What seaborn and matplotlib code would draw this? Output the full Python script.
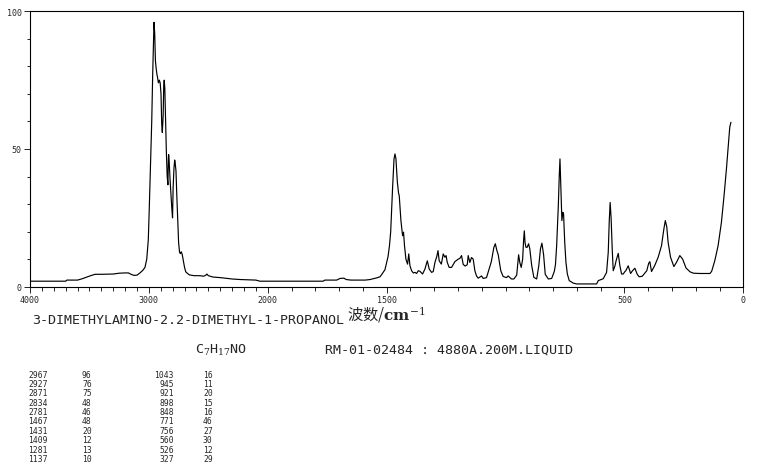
import numpy as np
import pandas as pd
import matplotlib
matplotlib.use("Agg")
import matplotlib.pyplot as plt
import seaborn as sns
from matplotlib.ticker import FixedLocator

# spectrum (wavenumber in cm-1, intensity in %)
wavenumber = [
    4000, 3850, 3700, 3690, 3600, 3560, 3523, 3490, 3453, 3400, 3300, 3250,
    3200, 3172, 3150, 3125, 3100, 3075, 3050, 3033, 3018, 3005, 2997, 2985,
    2976, 2968, 2960, 2957, 2951, 2945, 2938, 2932, 2927, 2920, 2912, 2905,
    2898, 2892, 2887, 2880, 2875, 2871, 2866, 2860, 2853, 2846, 2840, 2836,
    2834, 2830, 2822, 2814, 2808, 2801, 2796, 2789, 2783, 2779, 2772, 2765,
    2757, 2750, 2742, 2735, 2728, 2720, 2710, 2700, 2690, 2680, 2660, 2620,
    2570, 2540, 2520, 2512, 2500, 2460, 2400, 2300, 2230, 2100, 2066, 2000,
    1880, 1767, 1760, 1710, 1696, 1680, 1670, 1650, 1590, 1570, 1542, 1528,
    1521, 1507, 1494, 1488, 1483, 1475, 1469, 1465, 1461, 1455, 1450, 1447,
    1440, 1433, 1429, 1425, 1419, 1412, 1407, 1402, 1395, 1388, 1381, 1374,
    1367, 1360, 1349, 1339, 1329, 1321, 1311, 1304, 1297, 1289, 1284, 1279,
    1270, 1262, 1255, 1250, 1245, 1237, 1227, 1213, 1199, 1192, 1185, 1178,
    1170, 1161, 1157, 1150, 1143, 1136, 1129, 1122, 1115, 1108, 1101, 1094,
    1080, 1069, 1060, 1049, 1043, 1036, 1031, 1020, 1010, 996, 989, 975,
    965, 953, 948, 945, 940, 934, 928, 924, 921, 918, 914, 909,
    903, 898, 890, 881, 869, 860, 853, 847, 840, 833, 820, 806,
    795, 790, 785, 778, 774, 771, 767, 763, 759, 756, 751, 746,
    740, 732, 715, 701, 617, 610, 589, 575, 568, 564, 560, 556,
    551, 547, 540, 535, 526, 519, 512, 505, 498, 494, 484, 474,
    466, 456, 446, 438, 425, 406, 398, 393, 386, 372, 358, 344,
    334, 328, 322, 316, 306, 292, 280, 267, 255, 241, 224, 210,
    182, 160, 140, 133, 120, 106, 92, 81, 71, 62, 57, 52,
]
intensity = [
    2.0, 2.0, 2.0, 2.4, 2.4, 2.9, 3.5, 4.0, 4.5, 4.5, 4.6, 4.9,
    5.0, 5.0, 4.5, 4.1, 4.2, 5.0, 6.0, 7.0, 10, 17, 28, 46,
    60, 77, 92, 96, 92, 82, 79, 77, 76, 74, 75, 74,
    70, 59, 56, 62, 73, 75, 72, 61, 49, 40, 37, 46,
    48, 46, 39, 33, 29, 25, 36, 43, 46, 45, 42, 33,
    24, 16, 12.5, 12.0, 12.7, 11.8, 9.5, 7.0, 5.4, 5.0, 4.3, 4.0,
    4.0, 3.8, 4.2, 4.6, 4.0, 3.5, 3.3, 2.8, 2.6, 2.4, 2.0, 2.0,
    2.0, 2.0, 2.4, 2.4, 3.0, 3.1, 2.6, 2.4, 2.4, 2.6, 3.2, 3.6,
    4.4, 6.2, 11, 15, 20, 36, 46.4, 48.2, 46.5, 38, 34, 33,
    24, 18.5, 19.8, 15, 10, 8.2, 11.9, 7.6, 5.8, 5.0, 5.2, 4.8,
    5.8, 5.6, 4.6, 6.4, 9.4, 6.4, 5.2, 5.5, 8.8, 11, 13.1, 9.4,
    8.2, 11.9, 10.7, 11.3, 8.8, 7.0, 7.0, 9.1, 10, 10.3, 11.3, 8.1,
    7.5, 8, 11.3, 8.8, 10.6, 10, 5.8, 3.9, 3.1, 3.5, 3.9, 3.0,
    3.3, 6.4, 9, 14.3, 15.6, 13, 11.7, 5.8, 3.7, 3.3, 3.9, 2.8,
    2.8, 4.2, 9, 11.6, 8.8, 7.0, 10, 17, 20.3, 16, 14.3, 14.3,
    15.6, 13.8, 7.7, 3.4, 2.8, 7.7, 13.8, 15.8, 11.7, 4.5, 2.8, 3.0,
    5.5, 8, 14.9, 29.4, 40.3, 46.4, 35.5, 24, 27, 26.5, 16, 8.9,
    4.6, 2.2, 1.3, 1.0, 1.0, 2.2, 2.9, 5.2, 12.5, 23.4, 30.6, 25,
    13, 5.8, 7.5, 9.4, 12.1, 7.6, 4.6, 4.6, 5.5, 5.8, 7.6, 4.8,
    5.8, 6.7, 4.5, 3.6, 3.8, 5.8, 8.5, 9.1, 5.5, 7.8, 10.7, 14.9,
    21, 24, 21.8, 16, 10.7, 7.3, 9, 11.3, 10, 6.8, 5.4, 4.9,
    4.8, 4.8, 4.8, 5.6, 9.4, 14.9, 23.4, 33, 42.7, 52.4, 57.9, 59.7,
]

x_labels = [4000, 3000, 2000, 1500, 500, 0]
y_labels = [0, 50, 100]

peak_wn_1 = [2967, 2927, 2871, 2834, 2781, 1467, 1431, 1409, 1281, 1137]
peak_int_1 = [96, 76, 75, 48, 46, 48, 20, 12, 13, 10]
peak_wn_2 = [1043, 945, 921, 898, 848, 771, 756, 560, 526, 327]
peak_int_2 = [16, 11, 20, 15, 16, 46, 27, 30, 12, 29]

compound = "3-DIMETHYLAMINO-2.2-DIMETHYL-1-PROPANOL"
formula = "C$_7$H$_{17}$NO"
sample = "RM-01-02484 : 4880A.200M.LIQUID"

df = pd.DataFrame({"wavenumber": wavenumber, "intensity": intensity})

sns.set_style("ticks")
plt.rcParams["font.family"] = ["DejaVu Sans Mono"]
plt.rcParams["axes.linewidth"] = 0.8
plt.rcParams["mathtext.fontset"] = "dejavuserif"


# axis is compressed by 2 above 2000 cm-1
def fwd(x):
    x = np.asarray(x, dtype=float)
    return np.where(x > 2000, 2000 + (x - 2000) / 2, x)


def inv(u):
    u = np.asarray(u, dtype=float)
    return np.where(u > 2000, 2000 + (u - 2000) * 2, u)


W, H = 765, 477
fig = plt.figure(figsize=(W / 100, H / 100), dpi=100)
ax = fig.add_axes([30 / W, 1 - 287.7 / H, 713.3 / W, 275.4 / H])

ax.set_xscale("function", functions=(fwd, inv))
sns.lineplot(data=df, x="wavenumber", y="intensity", sort=False,
             estimator=None, color="black", lw=0.85, ax=ax)

ax.set_xlim(4000, 0)
ax.set_ylim(0, 100)
for s in ax.spines.values():
    s.set_visible(True)
    s.set_color("black")

ax.xaxis.set_major_locator(FixedLocator(x_labels))
ax.xaxis.set_minor_locator(FixedLocator(list(range(0, 4001, 100))))
ax.set_xticklabels([str(v) for v in x_labels])
ax.yaxis.set_major_locator(FixedLocator(y_labels))
ax.yaxis.set_minor_locator(FixedLocator(list(range(0, 101, 10))))
ax.set_yticklabels([str(v) for v in y_labels])

ax.tick_params(axis="x", which="major", length=4, width=0.7, pad=2, labelsize=6)
ax.tick_params(axis="x", which="minor", length=3, width=0.7)
ax.tick_params(axis="y", which="major", length=4.5, width=0.7, pad=1.5, labelsize=6)
ax.tick_params(axis="y", which="minor", length=2, width=0.7)

ax.set_ylabel("")
ax.set_xlabel("波数/$\\mathbf{cm}^{-1}$", family=["Noto Sans CJK SC", "DejaVu Serif"],
              fontsize=11, labelpad=0)


def px(x, y):
    return x / W, 1 - y / H


fig.text(*px(32, 321), compound, fontsize=9.6, va="center", ha="left")
fig.text(*px(195, 350), formula, fontsize=9.6, va="center", ha="left")
fig.text(*px(325, 350), sample, fontsize=9.6, va="center", ha="left")

row0, step = 375, 9.4
for i in range(len(peak_wn_1)):
    y = row0 + i * step
    fig.text(*px(28, y), str(peak_wn_1[i]), fontsize=5.8, va="center", ha="left")
    fig.text(*px(82, y), str(peak_int_1[i]), fontsize=5.8, va="center", ha="left")
    fig.text(*px(174, y), str(peak_wn_2[i]), fontsize=5.8, va="center", ha="right")
    fig.text(*px(203, y), str(peak_int_2[i]), fontsize=5.8, va="center", ha="left")

fig.savefig("out.png", dpi=100)
